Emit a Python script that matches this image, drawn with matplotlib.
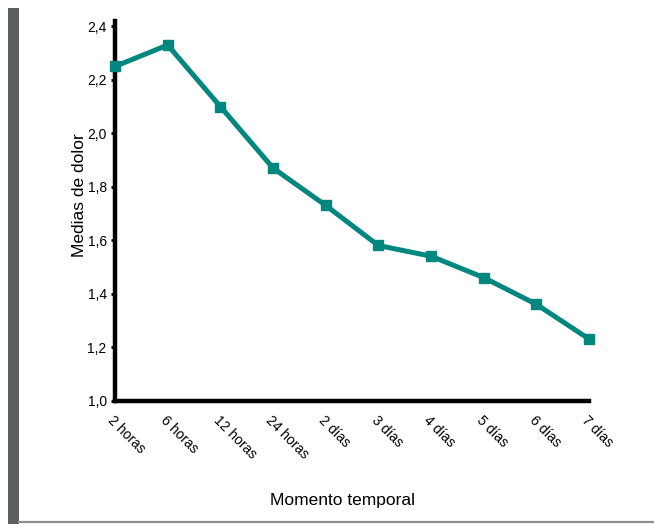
import matplotlib
matplotlib.use("Agg")
import matplotlib.pyplot as plt
from matplotlib.patches import Rectangle
from matplotlib.lines import Line2D

categories = ["2 horas", "6 horas", "12 horas", "24 horas", "2 días",
              "3 días", "4 días", "5 días", "6 días", "7 días"]
values = [2.25, 2.33, 2.10, 1.87, 1.73, 1.58, 1.54, 1.46, 1.36, 1.23]
yticks = [1.0, 1.2, 1.4, 1.6, 1.8, 2.0, 2.2, 2.4]
ytick_labels = ["1,0", "1,2", "1,4", "1,6", "1,8", "2,0", "2,2", "2,4"]

plt.rcParams['font.family'] = ['Liberation Sans', 'DejaVu Sans']

W, H = 654, 524
fig = plt.figure(figsize=(W / 100, H / 100), dpi=100)
fig.patch.set_facecolor("white")

# decorative frame: grey bar on left, grey line at bottom
fig.patches.append(Rectangle((8 / W, 0), 11 / W, 1 - 8 / H, transform=fig.transFigure,
                             facecolor="#5b6163", edgecolor="none"))
fig.lines.append(Line2D([19 / W, 1], [1 - 521.5 / H, 1 - 521.5 / H], transform=fig.transFigure,
                        color="#8a8f90", linewidth=1.6))

ax = fig.add_axes([115 / W, 1 - 400.5 / H, (589 - 115) / W, (400.5 - 21) / H])
x = list(range(len(categories)))
ax.plot(x, values, color="#00877f", linewidth=3.6, marker="s", markersize=6.5,
        solid_joinstyle="miter", clip_on=False, zorder=3)

ax.set_xlim(0, len(categories) - 1)
ax.set_ylim(1.0, 2.42)
ax.set_yticks(yticks)
ax.set_yticklabels(ytick_labels, fontsize=10)
ax.set_xticks(x)
ax.set_xticklabels(categories, fontsize=10, rotation=-45, ha="left", va="top",
                   rotation_mode="anchor")
ax.tick_params(axis="x", length=0, pad=9)
ax.tick_params(axis="y", length=3, width=2, direction="out", pad=3)

for s in ["top", "right"]:
    ax.spines[s].set_visible(False)
for s in ["left", "bottom"]:
    ax.spines[s].set_linewidth(3.2)
    ax.spines[s].set_color("black")
    ax.spines[s].set_capstyle("projecting")

ax.set_ylabel("Medias de dolor", fontsize=12.5)
ax.yaxis.set_label_coords((80 - 115) / (589 - 115), (400.5 - 195) / (400.5 - 21))
ax.set_xlabel("Momento temporal", fontsize=12.5)
ax.xaxis.set_label_coords((342 - 115) / (589 - 115), -(500 - 400.5) / (400.5 - 21))
ax.xaxis.label.set_va("center")
ax.yaxis.label.set_va("center")

fig.savefig("out.png", dpi=100, facecolor="white")
